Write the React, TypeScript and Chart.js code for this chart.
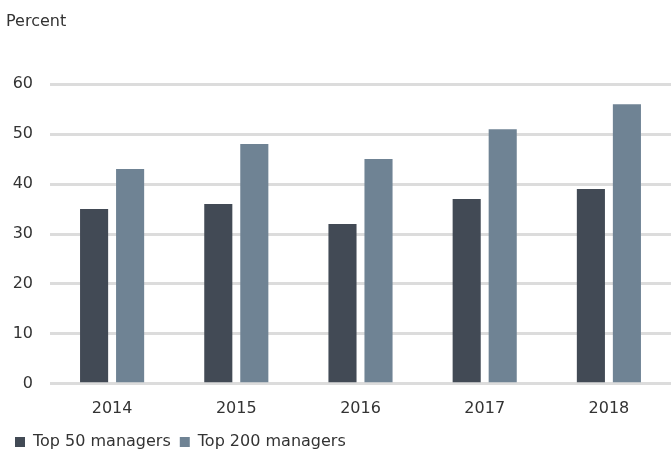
import React, { useEffect, useRef } from "react";
import { Chart, registerables } from "chart.js";

Chart.register(...registerables);

const categories = ["2014", "2015", "2016", "2017", "2018"];
const top50 = [35, 36, 32, 37, 39];
const top200 = [43, 48, 45, 51, 56];
const seriesNames = ["Top 50 managers", "Top 200 managers"];
const yTicks = [0, 10, 20, 30, 40, 50, 60];

const FONT = "'DejaVu Sans', 'Liberation Sans', Arial, sans-serif";
const TEXT = "#333333";

export default function App() {
  const ref = useRef<HTMLCanvasElement | null>(null);

  useEffect(() => {
    document.body.style.margin = "0";
    const ctx = ref.current!.getContext("2d")!;
    const chart = new Chart(ctx, {
      type: "bar",
      data: {
        labels: categories,
        datasets: [
          {
            label: seriesNames[0],
            data: top50,
            backgroundColor: "#424a55",
            categoryPercentage: 0.58,
            barPercentage: 0.78,
          },
          {
            label: seriesNames[1],
            data: top200,
            backgroundColor: "#6f8394",
            categoryPercentage: 0.58,
            barPercentage: 0.78,
          },
        ],
      },
      options: {
        animation: false,
        responsive: false,
        maintainAspectRatio: false,
        layout: { padding: { left: 6, right: 0, top: 0, bottom: -8 } },
        plugins: {
          title: {
            display: true,
            text: "Percent",
            align: "start",
            color: TEXT,
            font: { family: FONT, size: 16, weight: "normal" },
            padding: { top: 12, bottom: 53 },
          },
          legend: {
            position: "bottom",
            align: "start",
            labels: {
              boxWidth: 10,
              boxHeight: 10,
              padding: 9,
              color: TEXT,
              font: { family: FONT, size: 16 },
            },
          },
          tooltip: { enabled: false },
        },
        scales: {
          x: {
            grid: { display: false, drawTicks: false },
            border: { display: false },
            ticks: {
              color: TEXT,
              font: { family: FONT, size: 16 },
              padding: 15,
            },
            afterFit: (scale: any) => {
              scale.height -= 8;
            },
          },
          y: {
            min: 0,
            max: 60,
            afterBuildTicks: (axis: any) => {
              axis.ticks = yTicks.map((v) => ({ value: v }));
            },
            afterFit: (scale: any) => {
              scale.width = 44;
            },
            grid: { color: "#dcdcdc", lineWidth: 3, drawTicks: false },
            border: { display: false },
            ticks: {
              color: TEXT,
              font: { family: FONT, size: 16 },
              padding: 17,
            },
          },
        },
      },
    });
    return () => chart.destroy();
  }, []);

  return (
    <div style={{ width: 671, height: 452 }}>
      <canvas ref={ref} width={671} height={452} />
    </div>
  );
}
